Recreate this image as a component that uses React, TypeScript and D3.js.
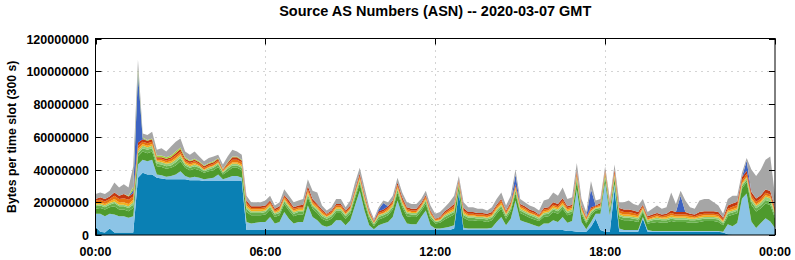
import React from 'react';
import * as d3 from 'd3';

// 10-minute slots from 00:00 to 24:00, values in MB per 300 s slot
const slotMinutes = d3.range(0, 1441, 10);

const teal = [
  5,2,1.5,4,1.5,1.5,1.5,1.5,1.5,
  35,38,37,37,35,34.5,34,34,34,34,34,33.5,33.5,33.5,33,33,33,33,33,33,33,33,33,
  3,3,3,3,3,3,3,3,3,3,3,
  3,3,3,3,3,3,3,3,3,3,3,
  3,3,3,3,3,3,3,3,3,3,3,
  3,3,3,3,3,3,3,3,3,3,3,
  4,26,
  3,3,3,3,3,3,3,3,3,3,3,
  3,3,3,3,3,3,3,3,3,3,3,
  2.5,2.5,2,2,2,5,10,3,2,2,28,
  2,2,2,2,2,
  10,
  2,2,2,2,2,2,2,2,
  2,2,2,2,2,2,2,2,
  1.5,0.5,
  0.3,0.3,0.3,0.3,0.3,0.3,0.3,0.3,0.3,0.3,
];

const lightBlue = [
  8,11,10,9,11,10,10,9,10,
  8,8,8,9,
  2,2,1.5,2,3,5,2,1.5,2,1.5,1,1.5,2,4,1,2,3,3,2,
  5,4,4.5,5,5,8,4,5,11,7,4,5,5,
  15,8,6,3,2,3,6,6,3,6,15,24,12,3,0.5,
  3,4,5,8,18,9,4,3.5,3.5,8,12,3,1,1,1.5,2,
  2,1,1.5,1,1,1,1,1,1.5,5,8,3,7,
  18,6,5,4,3,2,4,4,6,5,8,5,6,26,6,1.5,
  3,3,10,30,10,3,2,1,1,1,1,1,
  1,
  0.5,0.5,0.5,0.5,0.5,0.5,0.5,0.5,0.5,0.5,0.5,0.5,0.5,0.5,0.5,0.5,
  6,5,7,22,25,8,4,7,10,8,4,
];

const darkGreen = [
  3,3.5,4,4,5,4,4,4,5,
  5,5,5,5,
  5,5,5,5,5.5,6,5,4.5,5,4.5,4,4.5,4.5,4.5,3,4,5,5,4.5,
  6,5,4.5,4,4.5,4.5,4,4,5,5,4.5,4.5,4.5,
  5,5,4.5,4,3.5,4,4.5,4.5,4,4,4.5,4.5,4.5,4,2,
  3.5,3.5,4,4.5,5,5,4.5,4.5,4.5,3.5,4,4,3,3.5,5,6,
  6.5,3,6,5,5,4.5,4.5,4,4.5,5,5,4,4.5,
  4.5,4.5,4,3.5,3.5,3.5,4,4.5,5,5,5,4.5,4.5,5,4.5,3.5,
  4,2,2.5,3,3,3,6,6,6,5.5,5,3,
  4,5,5.5,5,5,6,5.5,5.5,5.5,5,5,5.5,6,6,6,5.5,4,
  5,7,6,6,7,10,10,9,9,10,6,
];

const midGreen = [
  1.5,1.5,1.5,1.5,2,2,2,2,2,
  2,2,2,2,1.5,1.5,1.5,1.5,2,2,1.5,1.5,1.5,1.5,1,1,1.5,1.5,1,1.5,1.5,1.5,1.5,
  2,1.5,1.5,1.5,1.5,1.5,1.5,1.5,1.5,1.5,1.5,1.5,1.5,
  1.5,1.5,1.5,1.5,1.5,1.5,1.5,1.5,1.5,1.5,1.5,1.5,1.5,1.5,1,
  1.5,1.5,1.5,1.5,1.5,1.5,1.5,1.5,1.5,1.5,1.5,1.5,1,1,1.5,1.5,
  1.5,1,1.5,1.5,1.5,1.5,1.5,1.5,1.5,1.5,1.5,1.5,1.5,
  1.5,1.5,1.5,1.5,1.5,1,1.5,1.5,1.5,1.5,1.5,1.5,1.5,1.5,1.5,1,
  1.5,1,1,1,1,1,1.5,1.5,1.5,1.5,1.5,1,
  1,1.5,1.5,1.5,1.5,1.5,1.5,1.5,1.5,1.5,1.5,1.5,1.5,1.5,1.5,1.5,1,
  1.5,1.5,1.5,1.5,1.5,2,2,2,2,2,1.5,
];

const lightGreen = [
  1,1,1,1,1,1,1,1,1.5,
  1,1.5,1.5,1.5,1.5,1.5,1.5,1.5,1.5,1.5,1,1,1,1,0.5,1,1,1,0.5,1,1,1,1,
  1,1,1,1,1,1,1,1,1,1,1,1,1,
  1,1,1,1,1,1,1,1,1,1,1,1,1,1,0.5,
  1,1,1,1,1,1,1,1,1,1,1,1,0.5,0.5,1,1,
  1,0.5,1,1,1,1,1,1,1,1,1,1,1,
  1,1,1,1,1,1,1,1,1,1,1,1,1,1,1,1,
  1,0.5,0.5,1,1,1,1,1,1,1,1,1,
  1,1,1,1,1,1,1,1,1,1,1,1,1,1,1,1,1,
  1,1,1,1,1,1.5,1.5,1.5,2,2,1,
];

const yellow = [
  1,1,1,1,1.5,1.5,1.5,1.5,1.5,
  1.5,1,1,1,0.5,1,1,1,1,1,1,1,1,0.5,0.5,0.5,0.5,0.5,0.5,0.5,1,1,1,
  1,1,1,1,1,1,0.5,1,1,1,1,1,1,
  1,1,1,1,0.5,0.5,1,1,0.5,0.5,1,1,1,0.5,0.5,
  0.5,0.5,1,1,1,1,1,0.5,0.5,0.5,1,0.5,0.5,0.5,0.5,1,
  1,0.5,1,0.5,0.5,0.5,0.5,0.5,0.5,1,1,0.5,1,
  1,1,1,0.5,0.5,0.5,1,1,1,1,1,1,1,1,1,0.5,
  0.5,0.5,0.5,1,0.5,1,1,1,1,1,1,0.5,
  0.5,0.5,1,0.5,1,1,1,1,1,1,0.5,1,1,1,1,1,0.5,
  1,1,1,1,1,1,1,1,1,1,1,
];

const orange = [
  1.5,1.5,1.5,1.5,2,2,2.5,2.5,2,
  2,1.5,1.5,1.5,1,1,1,1.5,1.5,1.5,1,1,1,1,1,1,1,1,0.5,1,1.5,1.5,1.5,
  1.5,1,1,1,1,1,1,1,1,1,1,1,1,
  1.5,1,1,1,1,1,1,1,1,1,1,1,1,1,0.5,
  1,1,1,1,1,1,1,1,1,1,1,1,0.5,1,1,1,
  1.5,1,1,1,1,1,1,1,1,1,1.5,1,1,
  1,1,1,1,1,1,1,1,1,1,1.5,1,1,1.5,1,1,
  1,0.5,1,1,1,1.5,1.5,1.5,1.5,1.5,1,1,
  1,1,1,1,1,1.5,1,1,1,1,1,1,1,1,1,1,1,
  1,1.5,1.5,1.5,1.5,1.5,1.5,1.5,1.5,1.5,1,
];

const red = [
  1,1.5,1.5,1.5,2,2,2.5,2,2,
  2,1.5,1.5,1.5,1,1,1,1,1.5,1.5,1,1,1,1,1,1,1,1,0.5,1,1.5,1.5,1,
  1.5,1,1,1,1,1,1,1,1,1.5,1,1,1.5,
  2,1.5,1,1,0.5,1,1,1,1,1,1,1.5,1,1,0.5,
  1,1,1,1,1.5,1.5,1,1,1,1,1,1,0.5,0.5,1,1,
  1.5,1,1.5,1,1,1,1,1,1,1,1,1,1,
  1,1,1,1,1,0.5,1,1,1.5,1.5,1.5,1,1,1.5,1,0.5,
  1,0.5,1,1,1,1.5,1.5,1.5,1.5,1.5,1.5,1,
  1,1,1,1,1,1.5,1.5,1.5,1.5,1,1,1.5,1.5,1.5,1.5,1.5,1,
  2,2,2,2,2,2,2,2,2,2,1.5,
];

const blue = [
  0,0,0,0,0,0,0,0,2,42,
  0.5,0,0,0,0,0,0,0,0,0,
  0,0,0,0,0,0,0,0,0,0,
  0,0,0,0,0,0,0,0,0,0,
  0,0,0,0,0,0,0,0,0,0,
  0,0,0,0,0,0,0,0,0,0,
  1,4,0,0,0,0,0,0,0,0,
  0,0,0,0,0,0,0,0,0,0,
  0,0,0,0,0,0,0,0,0,6,
  0,0,0,0,0,0,0,0,0,0,
  0,0,0,0,0,11,0,0,0,0,
  0,0,0,0,0,0,0,0,0,0,
  0,0,0,0,10,0,0,0,0,0,
  0,0,0,0,0,0,0,0,6,0,
  0,0,0,0,0,
];

const lime = [
  0,0,0,0,0,0,0,0.5,2,3,
  0.5,0.5,0.5,1,1,1,1,1,1,1,
  0.5,0.5,0.5,0.5,0.5,0.5,0.5,0.5,0.5,0.5,
  0.5,0.5,0,0,0,0,0,0,0,0,
  0,0,0,0,0,0,0,0,0,0,
  0,0,0,0,0,0,0,0,0,0,
  0,0,0,0,0,0,0,0,0,0,
  0,0,0,0,0,0,0,0,0,0,
  0,0,0,0,0,0,0,0,0,0,
  0,0,0,0,0,0,0,0,0,0,
  0,0,0,0,0,0,0,0,0,0,
  0,0,0,0,0,0,0,0,0,0,
  0,0,0,0,0,0,0,0,0,0,
  0,0,0,0,0,0,0,0,0,0,
  0,0,0,0,0,
];

const gray = [
  3,3,3,3.5,6,5,6,5,12.5,
  5.5,2.5,3,4,3.5,4.5,3.5,5.5,6,5.5,3.5,3.5,4.5,3,2.5,3,3,2,2.5,3.5,4,3,3,
  3,2.5,2.5,2.5,3,3,2,2.5,3.5,3,3,3,3.5,
  4,5,7,2.5,2,2,3,3,2,3,4,3.5,4,2,1.5,
  1.5,1.5,2.5,3,3,3,3,3,3,2.5,2.5,3,3,3,2.5,3.5,
  5,2,3.5,3,3,2.5,2.5,2,3,3.5,4,3,4,
  3,3,2.5,2.5,2.5,2.5,4.5,5,6,5,6.5,4.5,4.5,4.5,4,3,
  5,3,2.5,2,2.5,3,3.5,4.5,5.5,4,4,3.5,
  2.5,3.5,4.5,3.5,4,11,5,3,7,4,3.5,7,7.5,7.5,5.5,4,2.5,
  4,4.7,3.7,2.7,1.7,13.7,13.7,15.7,18.2,21.2,7.7,
];

const seriesDefs = [
  { key: 'teal', values: teal, color: '#0a80b4' },
  { key: 'lightBlue', values: lightBlue, color: '#8cc4e6' },
  { key: 'darkGreen', values: darkGreen, color: '#4e9a2d' },
  { key: 'midGreen', values: midGreen, color: '#66b04a' },
  { key: 'lightGreen', values: lightGreen, color: '#96ce78' },
  { key: 'yellow', values: yellow, color: '#f2b11c' },
  { key: 'orange', values: orange, color: '#e8720c' },
  { key: 'red', values: red, color: '#c4380e' },
  { key: 'blue', values: blue, color: '#3d63c2' },
  { key: 'lime', values: lime, color: '#a4d23c' },
  { key: 'gray', values: gray, color: '#a6a6a6' },
];

const yTicks = [0, 20000000, 40000000, 60000000, 80000000, 100000000, 120000000];
const xTicks = [0, 360, 720, 1080, 1440];
const xTickLabels = ['00:00', '06:00', '12:00', '18:00', '00:00'];

const W = 795, H = 260;
const L = 95.5, R = 775, T = 38.5, B = 235;

export default function App() {
  const x = d3.scaleLinear().domain([0, 1440]).range([L, R]);
  const y = d3.scaleLinear().domain([0, 120000000]).range([B, T]);

  const rows = slotMinutes.map((t, i) => {
    const r: any = { t };
    seriesDefs.forEach((s) => { r[s.key] = s.values[i] * 1e6; });
    return r;
  });
  const stacked = d3.stack().keys(seriesDefs.map((s) => s.key))(rows as any);
  const area = d3.area<any>()
    .x((d) => x(d.data.t))
    .y0((d) => y(d[0]))
    .y1((d) => y(d[1]));

  const font = "'Liberation Sans', Arial, Helvetica, sans-serif";
  const fmt = d3.format('d');

  return (
    <svg width={W} height={H} style={{ position: 'absolute', left: 0, top: 0, background: '#fff' }}>
      <rect x={0} y={0} width={W} height={H} fill="#fff" />
      <defs>
        <clipPath id="plot">
          <rect x={L} y={T} width={R - L} height={B - T} />
        </clipPath>
      </defs>
      {yTicks.filter((v) => v > 0 && v < 120000000).map((v) => (
        <line key={'gy' + v} x1={L} x2={R} y1={Math.round(y(v)) + 0.5} y2={Math.round(y(v)) + 0.5}
          stroke="#a8a8a8" strokeWidth={1} strokeDasharray="1,5" />
      ))}
      {xTicks.filter((v) => v > 0 && v < 1440).map((v) => (
        <line key={'gx' + v} x1={Math.round(x(v)) + 0.5} x2={Math.round(x(v)) + 0.5} y1={T} y2={B}
          stroke="#a8a8a8" strokeWidth={1} strokeDasharray="1,5" />
      ))}
      <g clipPath="url(#plot)">
        {stacked.map((layer, i) => (
          <path key={seriesDefs[i].key} d={area(layer as any) || ''} fill={seriesDefs[i].color} stroke="none" />
        ))}
      </g>
      <rect x={L} y={T} width={R - L} height={B - T} fill="none" stroke="#000" strokeWidth={1} />
      {yTicks.map((v) => {
        const yy = Math.round(y(v)) + 0.5;
        return (
          <g key={'ty' + v}>
            <line x1={L} x2={L + 6} y1={yy} y2={yy} stroke="#000" />
            <line x1={R - 6} x2={R} y1={yy} y2={yy} stroke="#000" />
            <text x={89} y={yy + 4.5} textAnchor="end" fontFamily={font} fontWeight="bold" fontSize={12.5} fill="#000">
              {fmt(v)}
            </text>
          </g>
        );
      })}
      {xTicks.map((v, i) => {
        const xx = Math.round(x(v)) + 0.5;
        return (
          <g key={'tx' + i}>
            <line x1={xx} x2={xx} y1={B} y2={B - 6} stroke="#000" />
            <line x1={xx} x2={xx} y1={T} y2={T + 6} stroke="#000" />
            <text x={x(v)} y={256} textAnchor="middle" fontFamily={font} fontWeight="bold" fontSize={12.5} fill="#000">
              {xTickLabels[i]}
            </text>
          </g>
        );
      })}
      <text x={(L + R) / 2} y={16} textAnchor="middle" fontFamily={font} fontWeight="bold" fontSize={14.5} fill="#000">
        Source AS Numbers (ASN) -- 2020-03-07 GMT
      </text>
      <text transform={`translate(16,${(T + B) / 2}) rotate(-90)`} textAnchor="middle" fontFamily={font}
        fontWeight="bold" fontSize={12.3} fill="#000">
        Bytes per time slot (300 s)
      </text>
    </svg>
  );
}
